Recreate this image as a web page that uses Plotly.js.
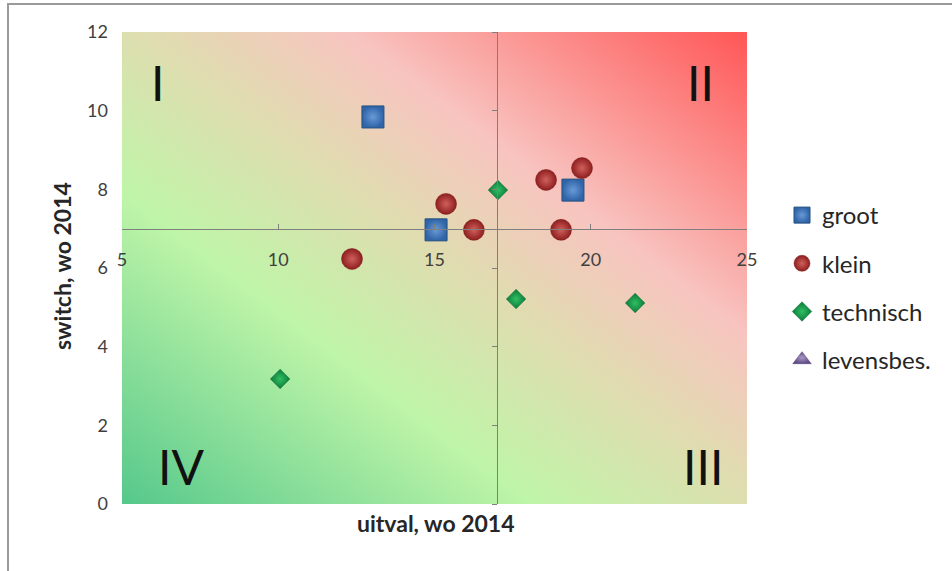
<!DOCTYPE html>
<html>
<head>
<meta charset="utf-8">
<script src="https://cdn.plot.ly/plotly-3.0.1.min.js"></script>
<style>html,body{margin:0;padding:0;background:#fff;}#chart{width:952px;height:571px;}</style>
</head>
<body>
<div id="chart"></div>
<script>
// ---- data ----
const seriesNames = ["groot", "klein", "technisch", "levensbes."];
const grootX = [13.03, 15.05, 19.43];
const grootY = [9.84, 6.97, 7.98];
const kleinX = [12.36, 15.37, 16.26, 18.57, 19.05, 19.72];
const kleinY = [6.23, 7.63, 6.97, 8.24, 6.97, 8.54];
const technischX = [17.03, 17.61, 21.42, 10.06];
const technischY = [7.98, 5.21, 5.11, 3.18];
const levensbesX = [];
const levensbesY = [];
const xTicks = [5, 10, 15, 20, 25];
const yTicks = [0, 2, 4, 6, 8, 10, 12];
const quadrantLabels = ["I", "II", "III", "IV"];
const xTitle = "uitval, wo 2014";
const yTitle = "switch, wo 2014";
const xCross = 17, yCross = 7;

const FONT = "Lato, 'Open Sans', sans-serif";

const grad = '<svg xmlns="http://www.w3.org/2000/svg" width="625" height="472" viewBox="0 0 625 472" preserveAspectRatio="none">' +
  '<defs><linearGradient id="g" x1="0" y1="1" x2="1" y2="0">' +
  '<stop offset="0" stop-color="#55c88b"/>' +
  '<stop offset="0.33" stop-color="#bff5a8"/>' +
  '<stop offset="0.52" stop-color="#e0dcb0"/>' +
  '<stop offset="0.68" stop-color="#f8c4c0"/>' +
  '<stop offset="1" stop-color="#ff5656"/>' +
  '</linearGradient></defs><rect width="625" height="472" fill="url(#g)"/></svg>';
const gradURI = "data:image/svg+xml;charset=utf-8," + encodeURIComponent(grad);

const legendOnly = (arr) => (arr.length ? arr : [null]);

const traces = [
  {name: seriesNames[0], x: grootX, y: grootY, type: "scatter", mode: "markers", legendgroup: "a",
   marker: {symbol: "square", size: 22, color: "#2f64a8", gradient: {type: "radial", color: "#6a9ad6"}, line: {color: "#24507f", width: 1}}},
  {name: seriesNames[1], x: kleinX, y: kleinY, type: "scatter", mode: "markers", legendgroup: "b",
   marker: {symbol: "circle", size: 21, color: "#8e1f1f", gradient: {type: "radial", color: "#d0605c"}, line: {color: "#7a1a1a", width: 0.5}}},
  {name: seriesNames[2], x: technischX, y: technischY, type: "scatter", mode: "markers", legendgroup: "c",
   marker: {symbol: "diamond", size: 15, color: "#0d7a3a", gradient: {type: "radial", color: "#2fbf63"}, line: {color: "#0b6a32", width: 0.5}}},
  {name: seriesNames[3], x: legendOnly(levensbesX), y: legendOnly(levensbesY), type: "scatter", mode: "markers", legendgroup: "d",
   marker: {symbol: "triangle-up", size: 22, color: "#5f4a85", gradient: {type: "radial", color: "#a898c4"}, line: {color: "#4e3b70", width: 0.5}}}
];

// hidden trace for the crossing y-axis with ticks
traces.push({x: [xCross], y: [yCross], yaxis: "y2", type: "scatter", mode: "markers", showlegend: false,
  marker: {opacity: 0}, hoverinfo: "skip"});

const px = (p) => (p - 122) / 625;   // pixel -> paper x
const py = (p) => (504 - p) / 472;   // pixel -> paper y

const ann = (text, x, y, size, extra) => Object.assign({text: text, xref: "paper", yref: "paper", x: px(x), y: py(y),
  xanchor: "center", yanchor: "middle", showarrow: false, font: {family: FONT, size: size, color: "#111"}}, extra || {});

const layout = {
  width: 952, height: 571,
  margin: {l: 122, r: 205, t: 32, b: 67},
  paper_bgcolor: "#ffffff",
  plot_bgcolor: "rgba(0,0,0,0)",
  font: {family: FONT, color: "#404040", size: 18},
  showlegend: true,
  legend: {x: px(782), y: py(193), xanchor: "left", yanchor: "top", font: {family: FONT, size: 24, color: "#262626"},
    tracegroupgap: 14, bgcolor: "rgba(0,0,0,0)", itemsizing: "trace"},
  xaxis: {range: [5, 25], tickvals: xTicks, ticktext: xTicks.map(String), anchor: "free", position: yCross / 12,
    showline: true, linecolor: "#7f7f7f", linewidth: 1, ticks: "inside", ticklen: 5, tickcolor: "#7f7f7f",
    showgrid: false, zeroline: false, ticklabelstandoff: 15, tickfont: {family: FONT, size: 18, color: "#404040"}, fixedrange: true},
  yaxis: {range: [0, 12], tickvals: yTicks, ticktext: yTicks.map(String), showline: false, ticks: "", showgrid: false, zeroline: false,
    ticklabelstandoff: 13, tickfont: {family: FONT, size: 18, color: "#404040"}, fixedrange: true},
  yaxis2: {range: [0, 12], tickvals: yTicks, overlaying: "y", anchor: "free", position: (xCross - 5) / 20, side: "left",
    showline: true, linecolor: "#7f7f7f", linewidth: 1, ticks: "outside", ticklen: 5, tickcolor: "#7f7f7f",
    showticklabels: false, showgrid: false, zeroline: false, fixedrange: true},
  images: [{source: gradURI, xref: "paper", yref: "paper", x: 0, y: 1, sizex: 1, sizey: 1,
    sizing: "stretch", xanchor: "left", yanchor: "top", layer: "below"}],
  shapes: [{type: "path", xref: "paper", yref: "paper",
    path: `M ${px(8)},${py(575)} L ${px(8)},${py(4)} L ${px(956)},${py(4)}`,
    line: {color: "#9a9a9a", width: 2}}],
  annotations: [
    ann(quadrantLabels[0], 157, 82, 48),
    ann(quadrantLabels[1], 700, 82, 48),
    ann(quadrantLabels[2], 703, 466, 48),
    ann(quadrantLabels[3], 181, 466, 48),
    ann("<b>" + xTitle + "</b>", 436, 523, 23, {font: {family: FONT, size: 23, color: "#262626"}}),
    ann("<b>" + yTitle + "</b>", 62, 266, 23, {textangle: -90, font: {family: FONT, size: 23, color: "#262626"}})
  ]
};

Plotly.newPlot("chart", traces, layout, {displayModeBar: false, staticPlot: true});
</script>
</body>
</html>
